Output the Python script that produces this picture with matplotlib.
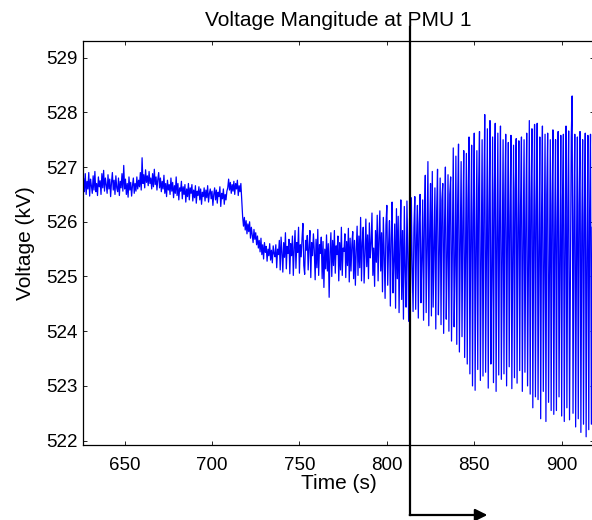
import numpy as np
import matplotlib
matplotlib.use("Agg")
import matplotlib.pyplot as plt
from matplotlib import transforms

plt.rcParams['font.family'] = ['Liberation Sans', 'DejaVu Sans']

# PMU samples, every half second from t_start
t_start = 626
t_step = 0.5
voltage_kv = [
    # 626 - 635.5
    526.62, 526.80, 526.55, 526.88, 526.50, 526.74, 526.60, 526.90, 526.47, 526.78,
    526.66, 526.52, 526.84, 526.58, 526.92, 526.55, 526.70, 526.48, 526.82, 526.64,
    # 636 - 645.5
    526.75, 526.50, 526.88, 526.62, 526.94, 526.56, 526.80, 526.68, 526.52, 526.86,
    526.60, 526.78, 526.46, 526.72, 526.90, 526.58, 526.76, 526.50, 526.84, 526.62,
    # 646 - 655.5
    526.55, 526.80, 526.48, 526.74, 526.62, 526.88, 526.56, 527.03, 526.60, 526.78,
    526.50, 526.70, 526.45, 526.82, 526.58, 526.72, 526.47, 526.66, 526.80, 526.52,
    # 656 - 665.5
    526.70, 526.56, 526.82, 526.60, 526.76, 526.64, 526.90, 526.58, 527.17, 526.70,
    526.86, 526.62, 526.95, 526.72, 526.84, 526.66, 526.92, 526.70, 526.80, 526.60,
    # 666 - 675.5
    526.88, 526.64, 526.96, 526.68, 526.82, 526.58, 526.78, 526.90, 526.62, 526.80,
    526.55, 526.74, 526.60, 526.85, 526.52, 526.70, 526.46, 526.76, 526.58, 526.68,
    # 676 - 685.5
    526.50, 526.80, 526.56, 526.72, 526.44, 526.66, 526.52, 526.82, 526.48, 526.70,
    526.40, 526.62, 526.56, 526.74, 526.42, 526.64, 526.50, 526.68, 526.36, 526.60,
    # 686 - 695.5
    526.46, 526.70, 526.40, 526.62, 526.52, 526.68, 526.38, 526.58, 526.44, 526.66,
    526.34, 526.56, 526.48, 526.64, 526.40, 526.60, 526.32, 526.54, 526.46, 526.62,
    # 696 - 705.5
    526.38, 526.58, 526.44, 526.66, 526.36, 526.52, 526.60, 526.42, 526.56, 526.30,
    526.50, 526.62, 526.40, 526.58, 526.34, 526.54, 526.46, 526.64, 526.28, 526.52,
    # 706 - 715.5
    526.42, 526.60, 526.32, 526.50, 526.40, 526.56, 526.62, 526.78, 526.58, 526.72,
    526.52, 526.68, 526.56, 526.74, 526.50, 526.70, 526.60, 526.76, 526.48, 526.66,
    # 716 - 725.5
    526.55, 526.70, 526.40, 526.10, 525.92, 526.08, 525.85, 526.02, 525.78, 525.96,
    525.82, 526.00, 525.70, 525.90, 525.76, 525.62, 525.86, 525.68, 525.80, 525.58,
    # 726 - 735.5
    525.74, 525.52, 525.66, 525.45, 525.70, 525.40, 525.58, 525.32, 525.62, 525.44,
    525.55, 525.28, 525.50, 525.38, 525.60, 525.30, 525.48, 525.25, 525.56, 525.42,
    # 736 - 745.5
    525.36, 525.58, 525.16, 525.50, 525.40, 525.66, 525.12, 525.72, 525.44, 525.08,
    525.62, 525.35, 525.80, 525.14, 525.55, 525.42, 525.68, 525.05, 525.60, 525.38,
    # 746 - 755.5
    525.74, 525.02, 525.52, 525.84, 525.15, 525.62, 525.44, 525.90, 525.06, 525.58,
    525.36, 525.70, 525.97, 525.20, 525.04, 525.66, 525.48, 525.75, 525.12, 525.56,
    # 756 - 765.5
    525.84, 524.98, 525.62, 525.38, 525.78, 525.48, 524.94, 525.68, 525.16, 525.86,
    525.02, 525.58, 525.42, 525.72, 524.96, 525.64, 524.80, 525.50, 525.14, 525.76,
    # 766 - 775.5
    525.10, 525.60, 524.62, 525.44, 525.80, 525.00, 525.66, 525.20, 525.84, 525.06,
    525.56, 525.40, 525.74, 524.92, 525.62, 525.12, 525.90, 525.02, 525.52, 525.46,
    # 776 - 785.5
    525.78, 524.98, 525.64, 525.20, 525.88, 524.90, 525.70, 525.10, 525.58, 525.82,
    524.96, 525.66, 524.84, 525.48, 525.92, 525.02, 525.74, 525.16, 526.08, 524.92,
    # 786 - 795.5
    525.62, 525.90, 524.88, 525.40, 526.05, 525.18, 525.76, 524.96, 525.98, 525.34,
    525.60, 526.16, 525.02, 525.52, 524.82, 525.84, 525.26, 526.12, 524.92, 525.70,
    # 796 - 805.5
    526.20, 525.10, 525.80, 524.72, 526.08, 525.40, 524.60, 525.94, 526.30, 524.84,
    525.56, 526.02, 524.46, 525.70, 526.36, 524.70, 525.28, 525.96, 524.42, 526.24,
    # 806 - 815.5
    524.96, 526.10, 524.34, 525.62, 526.40, 524.58, 525.84, 524.22, 526.28, 525.10,
    524.44, 526.38, 525.40, 524.18, 526.06, 524.70, 526.44, 525.20, 524.36, 525.90,
    # 816 - 825.5
    526.46, 524.40, 525.70, 526.30, 524.24, 525.96, 526.50, 524.52, 525.30, 526.40,
    524.20, 526.08, 526.85, 524.34, 525.50, 527.10, 524.10, 525.80, 526.70, 524.28,
    # 826 - 835.5
    526.92, 524.44, 525.60, 526.62, 524.04, 526.20, 526.96, 524.30, 525.42, 526.80,
    524.12, 526.40, 526.70, 523.96, 525.90, 527.00, 524.22, 525.34, 526.86, 524.00,
    # 836 - 845.5
    526.50, 526.82, 523.82, 525.70, 527.35, 524.08, 525.20, 527.20, 523.76, 526.30,
    527.42, 523.62, 525.60, 527.10, 523.90, 526.00, 527.30, 523.52, 525.40, 527.25,
    # 846 - 855.5
    523.40, 526.40, 527.55, 523.22, 525.80, 527.40, 523.00, 526.10, 527.62, 522.92,
    525.50, 527.30, 523.30, 526.60, 527.65, 523.10, 525.20, 527.50, 523.18, 526.30,
    # 856 - 865.5
    527.96, 523.25, 525.60, 527.70, 522.96, 526.20, 527.85, 523.40, 525.00, 527.55,
    523.06, 526.50, 527.80, 522.90, 525.70, 527.62, 523.20, 526.00, 527.75, 523.12,
    # 866 - 875.5
    525.30, 527.50, 523.22, 526.40, 527.60, 523.00, 525.80, 527.45, 523.35, 526.10,
    527.58, 522.95, 525.40, 527.40, 523.15, 526.60, 527.52, 523.05, 525.90, 527.48,
    # 876 - 885.5
    523.28, 526.30, 527.55, 522.90, 525.60, 527.50, 523.25, 526.00, 527.62, 523.00,
    525.20, 527.85, 522.85, 526.40, 527.70, 522.60, 525.80, 527.78, 522.80, 526.20,
    # 886 - 895.5
    527.80, 522.75, 525.50, 527.55, 522.40, 526.10, 527.75, 522.90, 525.30, 527.60,
    522.35, 526.50, 527.62, 522.70, 525.00, 527.50, 522.55, 526.30, 527.68, 522.48,
    # 896 - 905.5
    525.70, 527.50, 522.55, 526.00, 527.65, 522.80, 525.40, 527.58, 522.45, 526.40,
    527.60, 522.35, 525.60, 527.75, 522.60, 526.20, 527.66, 522.38, 525.10, 527.55,
    # 906 - 915.5
    528.30, 522.50, 526.00, 527.60, 522.25, 525.50, 527.55, 522.40, 526.30, 527.65,
    522.15, 525.80, 527.50, 522.30, 526.10, 527.62, 522.07, 525.40, 527.58, 522.20,
    # 916 - 917.5
    526.20, 527.60, 522.30, 525.90,
]
time_s = t_start + t_step * np.arange(len(voltage_kv))

x_ticks = [650, 700, 750, 800, 850, 900]
y_ticks = [522, 523, 524, 525, 526, 527, 528, 529]
event_time = 813.5      # vertical marker
arrow_end_time = 857.5  # tip of the arrow below the axis

W, H = 592, 520
fig = plt.figure(figsize=(W / 100, H / 100), dpi=100)
ax = fig.add_axes([83 / W, (H - 445) / H, (594 - 83) / W, (445 - 40.7) / H])

ax.plot(time_s, voltage_kv, color='#0000ff', linewidth=0.9)

ax.set_xlim(626.2, 918.5)
ax.set_ylim(521.92, 529.31)
ax.set_xticks(x_ticks)
ax.set_yticks(y_ticks)
ax.tick_params(direction='in', top=True, right=True, length=3, width=0.6,
               labelsize=13.5)
ax.tick_params(axis='x', pad=8.5)
ax.tick_params(axis='y', pad=4)
for s in ax.spines.values():
    s.set_linewidth(0.9)
ax.spines['right'].set_visible(False)

ax.set_title('Voltage Mangitude at PMU 1', fontsize=15, pad=10.5)
ax.set_xlabel('Time (s)', fontsize=15, labelpad=0)
ax.set_ylabel('Voltage (kV)', fontsize=15, labelpad=8)

# event marker: vertical line through the plot, then arrow to the right below
tr = transforms.blended_transform_factory(ax.transData, fig.transFigure)
y_top = 1 - 27 / H
y_bot = 1 - 515 / H
ax.plot([event_time, event_time], [y_top, y_bot], color='black',
        linewidth=1.6, transform=tr, clip_on=False)
ax.annotate('', xy=(arrow_end_time, y_bot), xytext=(event_time - 0.4, y_bot),
            xycoords=tr, textcoords=tr,
            arrowprops=dict(arrowstyle='-|>', color='black', linewidth=1.6,
                            mutation_scale=18, shrinkA=0, shrinkB=0))

fig.savefig('out.png', dpi=100)
